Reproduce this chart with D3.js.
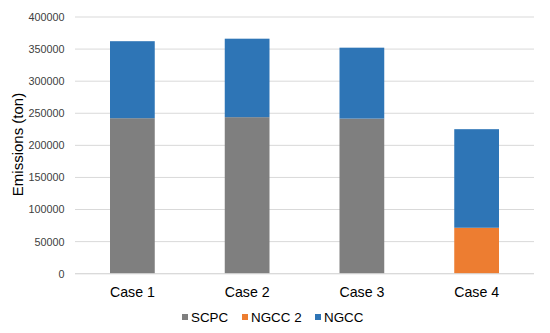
<!DOCTYPE html>
<html><head><meta charset="utf-8">
<script src="https://cdn.jsdelivr.net/npm/d3@7"></script>
<style>body{margin:0;background:#fff;} svg{display:block;font-family:"Liberation Sans",Arial,sans-serif;}</style>
</head><body>
<svg id="c" width="550" height="333"></svg>
<script>
const categories = ["Case 1","Case 2","Case 3","Case 4"];
const seriesNames = ["SCPC","NGCC 2","NGCC"];
const scpc  = [242300, 243900, 241700, 0];
const ngcc2 = [0, 0, 0, 71600];
const ngcc  = [120000, 122300, 110500, 153600];
const yTicks = [0,50000,100000,150000,200000,250000,300000,350000,400000];
const colors = ["#7f7f7f","#ed7d31","#2e75b6"];

const svg = d3.select("#c");
const x = d3.scaleBand().domain(categories).range([75,534]).paddingInner(0.61).paddingOuter(0.305);
const y = d3.scaleLinear().domain([0,400000]).range([273.7,17]);

// gridlines
svg.append("g").selectAll("line").data(yTicks).join("line")
  .attr("x1",75).attr("x2",534)
  .attr("y1",d=>y(d)).attr("y2",d=>y(d))
  .attr("stroke","#d9d9d9").attr("stroke-width",1);

// y axis labels
const yAxis = d3.axisLeft(y).tickValues(yTicks).tickFormat(d3.format("d")).tickSize(0).tickPadding(0);
const ya = svg.append("g").attr("transform","translate(64.5,0)").call(yAxis);
ya.select(".domain").remove();
ya.selectAll("text").attr("font-size","10.8px").attr("fill","#404040").attr("font-family","Liberation Sans, Arial, sans-serif");

// stacked data
const table = categories.map((c,i)=>({cat:c, "SCPC":scpc[i], "NGCC 2":ngcc2[i], "NGCC":ngcc[i]}));
const stack = d3.stack().keys(seriesNames)(table);
svg.append("g").selectAll("g").data(stack).join("g")
  .attr("fill",(d,i)=>colors[i])
  .selectAll("rect").data(d=>d).join("rect")
  .attr("x",d=>x(d.data.cat)).attr("width",x.bandwidth())
  .attr("y",d=>y(d[1])).attr("height",d=>y(d[0])-y(d[1]));

// x axis line
svg.append("line").attr("x1",75).attr("x2",534).attr("y1",y(0)).attr("y2",y(0)).attr("stroke","#d9d9d9");

// x axis labels
const xAxis = d3.axisBottom(x).tickSize(0).tickPadding(0);
const xa = svg.append("g").attr("transform","translate(0,286.5)").call(xAxis);
xa.select(".domain").remove();
xa.selectAll("text").attr("font-size","14.2px").attr("fill","#000").attr("dy","0.71em").attr("font-family","Liberation Sans, Arial, sans-serif");

// y title
svg.append("text").attr("transform","translate(23,144.5) rotate(-90)")
  .attr("text-anchor","middle").attr("font-size","15px").attr("fill","#000")
  .text("Emissions (ton)");

// legend
const legX = [182, 242, 315];
const lg = svg.append("g").selectAll("g").data(seriesNames).join("g")
  .attr("transform",(d,i)=>`translate(${legX[i]},317)`);
lg.append("rect").attr("x",0).attr("y",-3).attr("width",6).attr("height",6).attr("fill",(d,i)=>colors[i]);
lg.append("text").attr("x",9).attr("y",0).attr("dy","0.35em").attr("font-size","13.4px").attr("fill","#000").text(d=>d);
</script>
</body></html>
